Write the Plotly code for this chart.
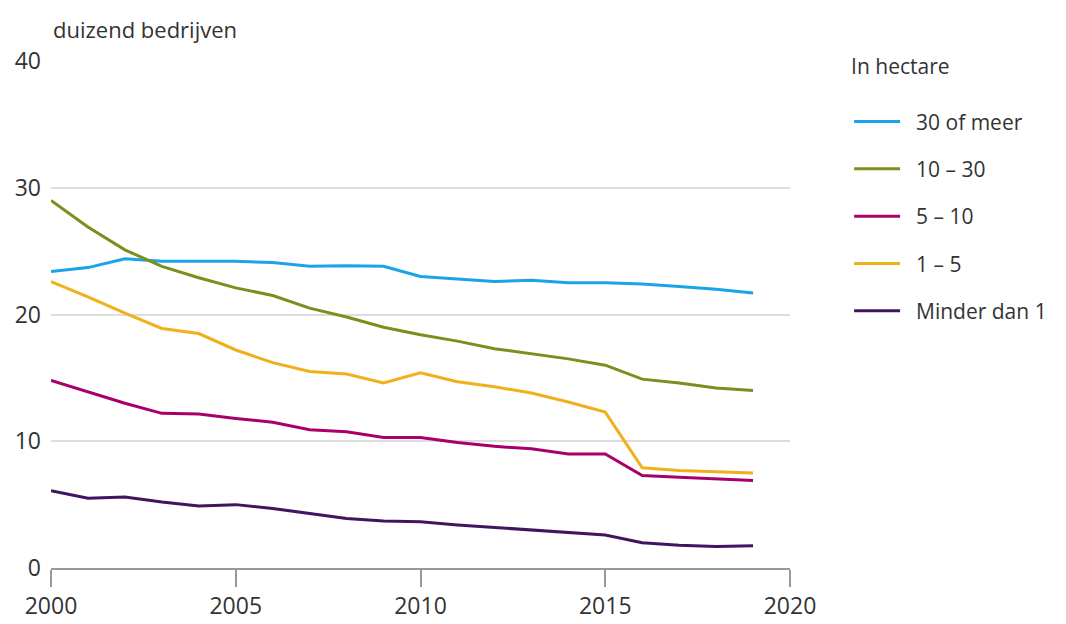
import plotly.graph_objects as go

# Landbouwbedrijven naar oppervlakte (duizend bedrijven)
years = list(range(2000, 2020))

ha_30_plus = [23.4, 23.7, 24.4, 24.2, 24.2, 24.2, 24.1, 23.8, 23.85, 23.8,
              23.0, 22.8, 22.6, 22.7, 22.5, 22.5, 22.4, 22.2, 22.0, 21.7]
ha_10_30 = [29.0, 26.9, 25.1, 23.8, 22.9, 22.1, 21.5, 20.5, 19.8, 19.0,
            18.4, 17.9, 17.3, 16.9, 16.5, 16.0, 14.9, 14.6, 14.2, 14.0]
ha_5_10 = [14.8, 13.9, 13.0, 12.2, 12.15, 11.8, 11.5, 10.9, 10.75, 10.3,
           10.3, 9.9, 9.6, 9.4, 9.0, 9.0, 7.3, 7.15, 7.0, 6.9]
ha_1_5 = [22.6, 21.4, 20.1, 18.9, 18.5, 17.2, 16.2, 15.5, 15.3, 14.6,
          15.4, 14.7, 14.3, 13.8, 13.1, 12.3, 7.9, 7.7, 7.6, 7.5]
ha_lt_1 = [6.1, 5.5, 5.6, 5.2, 4.9, 5.0, 4.7, 4.3, 3.9, 3.7,
           3.65, 3.4, 3.2, 3.05, 2.85, 2.6, 2.0, 1.8, 1.7, 1.75]

series_names = ["30 of meer", "10 \u2013 30", "5 \u2013 10", "1 \u2013 5", "Minder dan 1"]
series_values = [ha_30_plus, ha_10_30, ha_5_10, ha_1_5, ha_lt_1]
series_colors = ["#1aa3e8", "#7b8f1c", "#a8006a", "#f0b01b", "#42145f"]

font_family = "Open Sans, Noto Sans, sans-serif"
text_color = "#333333"
pad = "\u00a0\u00a0"  # extra room between legend line and its label

fig = go.Figure()
for i, (name, vals, col) in enumerate(zip(series_names, series_values, series_colors)):
    fig.add_trace(go.Scatter(
        x=years, y=vals, name=pad + name, mode="lines",
        line=dict(color=col, width=3),
        legendgroup=f"g{i}",
    ))

# the page body has an 8px margin, so the figure is sized/offset for that
fig.update_layout(
    width=1058, height=616,
    margin=dict(l=43, r=276, t=53, b=56, autoexpand=False),
    plot_bgcolor="white", paper_bgcolor="white",
    font=dict(family=font_family, size=21, color=text_color),
    showlegend=True,
    legend=dict(
        title=dict(text="In hectare<br> ", font=dict(size=21, color=text_color)),
        x=1.08, xanchor="left", y=1.028, yanchor="top",
        traceorder="grouped", tracegroupgap=17,
        itemwidth=46,
        font=dict(size=21, color=text_color),
        bgcolor="rgba(0,0,0,0)",
    ),
    xaxis=dict(
        range=[2000, 2020], tickvals=[2000, 2005, 2010, 2015, 2020],
        showgrid=False, zeroline=False,
        showline=True, linecolor="#999999", linewidth=1.5,
        ticks="outside", ticklen=17, tickcolor="#999999", tickwidth=1.5,
        tickfont=dict(size=23, color=text_color),
        automargin=False,
    ),
    yaxis=dict(
        range=[0, 40], tickvals=[0, 10, 20, 30, 40],
        showgrid=True, gridcolor="#dddddd", gridwidth=2,
        zeroline=False, showline=False, ticks="",
        ticklabelstandoff=9,
        tickfont=dict(size=23, color=text_color),
        automargin=False,
    ),
    annotations=[dict(
        text="duizend bedrijven", xref="paper", yref="paper",
        x=0, y=1.0, yshift=32, xanchor="left", yanchor="middle",
        showarrow=False, font=dict(size=22, color=text_color),
    )],
)

fig.write_html("out.html")
